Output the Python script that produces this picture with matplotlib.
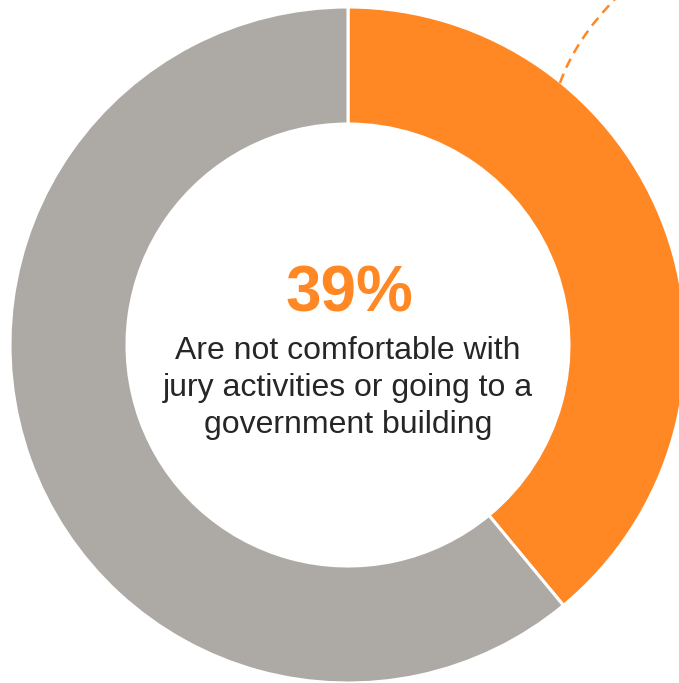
import matplotlib
matplotlib.use("Agg")
import matplotlib.pyplot as plt
from matplotlib.path import Path
from matplotlib.patches import PathPatch

# Data
categories = ["Not comfortable", "Comfortable"]
values = [39, 61]
colors = ["#FF8824", "#ADA9A5"]
headline = "39%"
body_lines = ["Are not comfortable with",
              "jury activities or going to a",
              "government building"]

W, H = 679, 683
fig = plt.figure(figsize=(W / 100, H / 100), dpi=100)
ax = fig.add_axes([0, 0, 1, 1])
ax.set_xlim(0, W)
ax.set_ylim(0, H)
ax.set_aspect("equal")
ax.axis("off")

cx, cy = 348, H - 345
R = 338
ring = 117

ax.pie(values, colors=colors, startangle=90, counterclock=False,
       center=(cx, cy), radius=R, frame=True,
       wedgeprops=dict(width=ring, edgecolor="white", linewidth=2.2))
ax.set_xlim(0, W)
ax.set_ylim(0, H)
ax.axis("off")

# leader dashed curve
verts = [(560, H - 83), (575, H - 40), (616, H + 2)]
path = Path(verts, [Path.MOVETO, Path.CURVE3, Path.CURVE3])
ax.add_patch(PathPatch(path, fill=False, edgecolor=colors[0], lw=1.8,
                       linestyle=(0, (4, 2.6)), clip_on=False))

font = "Liberation Sans"
ax.text(cx + 1, H - 312, headline, ha="center", va="baseline", fontsize=46,
        fontweight="bold", color=colors[0], family=font)
baselines = [359, 396, 433]
for line, b in zip(body_lines, baselines):
    ax.text(cx, H - b, line, ha="center", va="baseline", fontsize=23,
            color="#262626", family=font)

fig.savefig("out.png", dpi=100, facecolor="white")
